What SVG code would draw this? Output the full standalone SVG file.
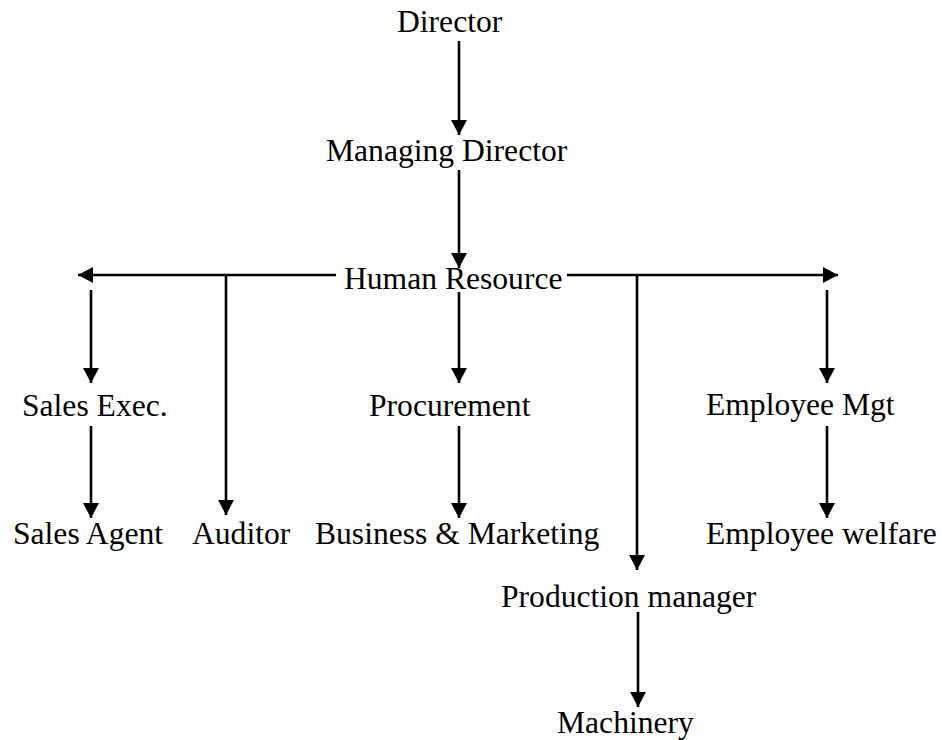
<svg xmlns="http://www.w3.org/2000/svg" width="942" height="740" viewBox="0 0 942 740">
<style>
text{font-family:"Liberation Serif","Times New Roman",serif;font-size:31.6px;fill:#000}
.c path{stroke:#000;stroke-width:2.6;fill:none;marker-end:url(#a)}
</style>
<defs>
<marker id="a" markerUnits="userSpaceOnUse" markerWidth="16" markerHeight="16" refX="15" refY="8" orient="auto"><path d="M0,0 L15,8 L0,16 z" fill="#000"/></marker>
</defs>
<rect width="942" height="740" fill="#fff"/>
<g class="c" id="connectors">
<path d="M459,41 L459,135"/>
<path d="M459,170 L459,268"/>
<path d="M336,275 L78,275"/>
<path d="M567,275 L838,275"/>
<path d="M226,275 L226,515"/>
<path d="M637,275 L637,570"/>
<path d="M91,290 L91,383"/>
<path d="M459,292 L459,383"/>
<path d="M827,290 L827,383"/>
<path d="M91,426 L91,518"/>
<path d="M459,426 L459,518"/>
<path d="M827,426 L827,518"/>
<path d="M638,612 L638,707"/>
</g>
<g id="director"><text x="397" y="32">Director</text></g>
<g id="managing-director"><text x="326" y="161">Managing Director</text></g>
<g id="human-resource"><text x="344" y="289">Human Resource</text></g>
<g id="sales-exec"><text x="22" y="416">Sales Exec.</text></g>
<g id="procurement"><text x="369" y="416">Procurement</text></g>
<g id="employee-mgt"><text x="706" y="415">Employee Mgt</text></g>
<g id="sales-agent"><text x="13" y="544">Sales Agent</text></g>
<g id="auditor"><text x="192" y="544">Auditor</text></g>
<g id="business-marketing"><text x="315" y="544">Business &amp; Marketing</text></g>
<g id="employee-welfare"><text x="706" y="544">Employee welfare</text></g>
<g id="production-manager"><text x="501" y="607">Production manager</text></g>
<g id="machinery"><text x="557" y="733">Machinery</text></g>
</svg>
